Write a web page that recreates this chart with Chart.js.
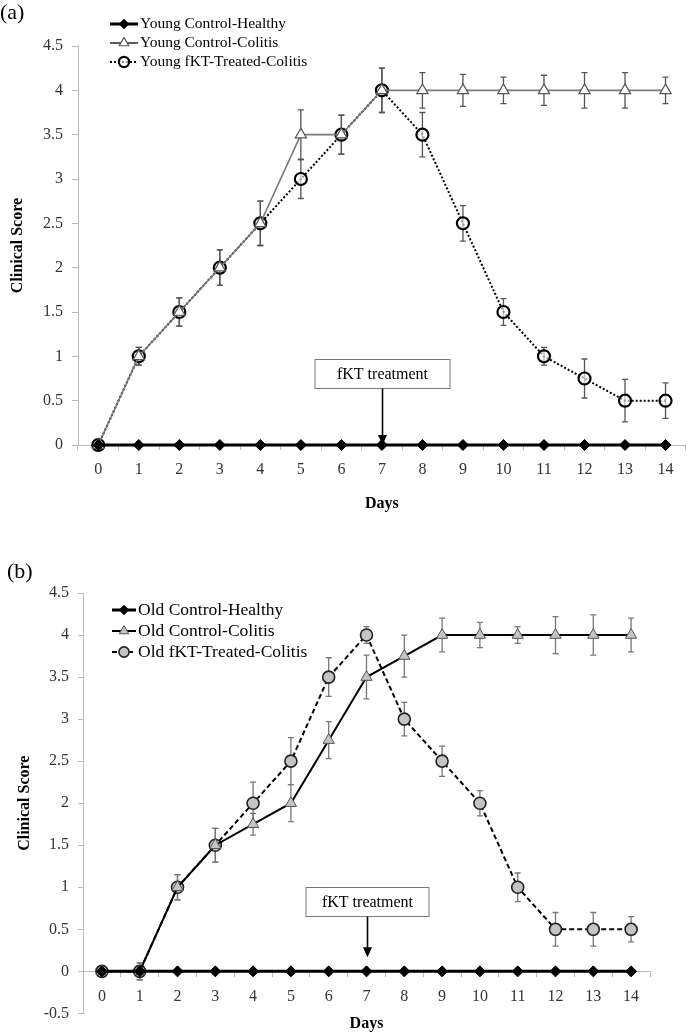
<!DOCTYPE html>
<html>
<head>
<meta charset="utf-8">
<script src="https://cdn.jsdelivr.net/npm/chart.js@4.4.1/dist/chart.umd.min.js"></script>
<style>
  body { margin: 0; background: #fff; width: 694px; height: 1032px; position: relative; overflow: hidden; }
  canvas { position: absolute; left: 0; }
  #chartA { top: 0; }
  #chartB { top: 530px; }
</style>
</head>
<body>
<canvas id="chartA" width="694" height="530"></canvas>
<canvas id="chartB" width="694" height="502"></canvas>
<script>
// days on the x axis
const days = ['0', '1', '2', '3', '4', '5', '6', '7', '8', '9', '10', '11', '12', '13', '14'];
const treatmentDay = 7;

// panel (a) - young mice
const youngHealthy = [0, 0, 0, 0, 0, 0, 0, 0, 0, 0, 0, 0, 0, 0, 0];
const youngColitis = [0, 1, 1.5, 2, 2.5, 3.5, 3.5, 4, 4, 4, 4, 4, 4, 4, 4];
const youngColitisErr = [0, 0.1, 0.16, 0.2, 0.25, 0.28, 0.22, 0.25, 0.2, 0.18, 0.15, 0.17, 0.2, 0.2, 0.15];
const youngTreated = [0, 1, 1.5, 2, 2.5, 3, 3.5, 4, 3.5, 2.5, 1.5, 1, 0.75, 0.5, 0.5];
const youngTreatedErr = [0, 0.1, 0.16, 0.2, 0.25, 0.22, 0.22, 0.25, 0.25, 0.2, 0.15, 0.1, 0.22, 0.24, 0.2];

// panel (b) - old mice
const oldHealthy = [0, 0, 0, 0, 0, 0, 0, 0, 0, 0, 0, 0, 0, 0, 0];
const oldColitis = [0, 0, 1, 1.5, 1.75, 2, 2.75, 3.5, 3.75, 4, 4, 4, 4, 4, 4];
const oldColitisErr = [0, 0.1, 0.15, 0.2, 0.13, 0.22, 0.22, 0.26, 0.25, 0.2, 0.15, 0.1, 0.22, 0.24, 0.2];
const oldTreated = [0, 0, 1, 1.5, 2, 2.5, 3.5, 4, 3, 2.5, 2, 1, 0.5, 0.5, 0.5];
const oldTreatedErr = [0, 0.1, 0.15, 0.2, 0.25, 0.28, 0.23, 0.1, 0.2, 0.18, 0.15, 0.17, 0.2, 0.2, 0.15];

const serif = "'Liberation Serif', 'Times New Roman', serif";
Chart.defaults.font.family = serif;

// vertical error bars, drawn under the markers
const errorBars = {
  id: 'errorBars',
  beforeDatasetsDraw(chart, args, opts) {
    const { ctx, scales: { x, y } } = chart;
    ctx.save();
    ctx.strokeStyle = opts.color;
    ctx.lineWidth = opts.width;
    chart.data.datasets.forEach(ds => {
      if (!ds.errors) return;
      ds.data.forEach((v, i) => {
        const e = ds.errors[i];
        if (!e) return;
        const px = x.getPixelForValue(i);
        const top = y.getPixelForValue(v + e);
        const bot = y.getPixelForValue(v - e);
        ctx.beginPath();
        ctx.moveTo(px, top); ctx.lineTo(px, bot);
        ctx.moveTo(px - opts.cap, top); ctx.lineTo(px + opts.cap, top);
        ctx.moveTo(px - opts.cap, bot); ctx.lineTo(px + opts.cap, bot);
        ctx.stroke();
      });
    });
    ctx.restore();
  }
};

// legend with a line sample and the marker on it
const lineLegend = {
  id: 'lineLegend',
  afterDraw(chart, args, opts) {
    const ctx = chart.ctx;
    ctx.save();
    ctx.font = opts.font;
    ctx.textBaseline = 'middle';
    chart.data.datasets.forEach((ds, i) => {
      const y = opts.top + i * opts.rowHeight;
      const x0 = opts.left, x1 = opts.left + opts.sample;
      ctx.strokeStyle = ds.legendColor || ds.borderColor;
      ctx.lineWidth = ds.borderWidth;
      ctx.setLineDash(ds.borderDash || []);
      ctx.beginPath(); ctx.moveTo(x0, y); ctx.lineTo(x1, y); ctx.stroke();
      ctx.setLineDash([]);
      ctx.fillStyle = ds.pointBackgroundColor;
      ctx.strokeStyle = ds.pointBorderColor;
      ctx.lineWidth = ds.pointBorderWidth;
      Chart.helpers.drawPoint(ctx, { pointStyle: ds.pointStyle, radius: ds.pointRadius * 0.85, borderWidth: ds.pointBorderWidth, rotation: 0 }, (x0 + x1) / 2, y);
      ctx.fillStyle = '#000';
      ctx.fillText(ds.label, x1 + 2, y);
    });
    ctx.restore();
  }
};

// "(a)" / "(b)"
const panelLabel = {
  id: 'panelLabel',
  afterDraw(chart, args, opts) {
    const ctx = chart.ctx;
    ctx.save();
    ctx.font = opts.font;
    ctx.fillStyle = '#000';
    ctx.textBaseline = 'middle';
    ctx.fillText(opts.text, opts.x, opts.y);
    ctx.restore();
  }
};

// boxed note with an arrow pointing at the treatment day
const treatmentNote = {
  id: 'treatmentNote',
  afterDatasetsDraw(chart, args, opts) {
    const { ctx, scales: { x, y } } = chart;
    const cx = Math.round(x.getPixelForValue(opts.day)) + 0.5;
    const y0 = y.getPixelForValue(0);
    const boxBottom = Math.round(y0 - opts.gap) + 0.5;
    const boxTop = boxBottom - opts.height;
    const tip = y0 - opts.tipGap;
    ctx.save();
    ctx.fillStyle = '#fff';
    ctx.fillRect(cx - opts.width / 2, boxTop, opts.width, opts.height);
    ctx.strokeStyle = '#777';
    ctx.lineWidth = 1;
    ctx.strokeRect(cx - opts.width / 2, boxTop, opts.width, opts.height);
    ctx.fillStyle = '#000';
    ctx.font = opts.font;
    ctx.textAlign = 'center';
    ctx.textBaseline = 'middle';
    ctx.fillText(opts.text, cx, boxTop + opts.height / 2 + 1);
    ctx.strokeStyle = '#000';
    ctx.lineWidth = 1.6;
    ctx.beginPath(); ctx.moveTo(cx, boxBottom); ctx.lineTo(cx, tip - 8); ctx.stroke();
    ctx.beginPath();
    ctx.moveTo(cx - 4.5, tip - 10); ctx.lineTo(cx + 4.5, tip - 10); ctx.lineTo(cx, tip);
    ctx.closePath(); ctx.fill();
    ctx.restore();
  }
};

const tickFont = { family: serif, size: 16 };
const titleFont = { family: serif, size: 16, weight: 'bold' };
const plainNumber = v => String(v);

// panel (a)
new Chart(document.getElementById('chartA').getContext('2d'), {
  type: 'line',
  data: {
    labels: days,
    datasets: [{
      label: 'Young Control-Healthy',
      data: youngHealthy,
      borderColor: '#000', borderWidth: 3,
      pointStyle: 'rectRot', pointRadius: 5.5, pointBackgroundColor: '#000', pointBorderColor: '#000', pointBorderWidth: 1
    }, {
      label: 'Young Control-Colitis',
      data: youngColitis, errors: youngColitisErr,
      borderColor: '#7a7a7a', legendColor: '#333', borderWidth: 1.6,
      pointStyle: 'triangle', pointRadius: 6.5, pointBackgroundColor: '#fff', pointBorderColor: '#555', pointBorderWidth: 1.2
    }, {
      label: 'Young fKT-Treated-Colitis',
      data: youngTreated, errors: youngTreatedErr,
      borderColor: '#000', borderWidth: 2, borderDash: [2, 2],
      pointStyle: 'circle', pointRadius: 6, pointBackgroundColor: 'rgba(255,255,255,0.6)', pointBorderColor: '#000', pointBorderWidth: 2.2
    }]
  },
  options: {
    responsive: false,
    animation: false,
    events: [],
    datasets: { line: { tension: 0, clip: false } },
    layout: { padding: { top: 46, right: 1.5, bottom: 0, left: 0 } },
    scales: {
      x: {
        type: 'category', offset: true,
        grid: { offset: true, drawOnChartArea: false, tickLength: 5, color: '#bbb' },
        border: { color: '#bbb' },
        ticks: { font: tickFont, color: '#333', padding: 10, maxRotation: 0, autoSkip: false },
        title: { display: true, text: 'Days', font: titleFont, color: '#000', padding: { top: 0, bottom: 17 } },
        afterFit(s) { s.height = 85; }
      },
      y: {
        min: 0, max: 4.5,
        ticks: { stepSize: 0.5, font: tickFont, color: '#333', padding: 9, callback: plainNumber },
        grid: { drawOnChartArea: false, tickLength: 6, color: '#bbb' },
        border: { color: '#bbb' },
        title: { display: true, text: 'Clinical Score', font: titleFont, color: '#000', padding: { top: 8, bottom: 0 } },
        afterFit(s) { s.width = 78; }
      }
    },
    plugins: {
      legend: { display: false },
      tooltip: { enabled: false },
      errorBars: { color: '#555', width: 1.3, cap: 3 },
      lineLegend: { left: 110, top: 24, rowHeight: 19, sample: 28, font: '15.5px ' + serif },
      panelLabel: { text: '(a)', x: 0, y: 13, font: '22px ' + serif },
      treatmentNote: { day: treatmentDay, text: 'fKT treatment', width: 135, height: 29, gap: 57, tipGap: 0, font: '16px ' + serif }
    }
  },
  plugins: [errorBars, lineLegend, panelLabel, treatmentNote]
});

// panel (b)
new Chart(document.getElementById('chartB').getContext('2d'), {
  type: 'line',
  data: {
    labels: days,
    datasets: [{
      label: 'Old Control-Healthy',
      data: oldHealthy,
      borderColor: '#000', borderWidth: 3,
      pointStyle: 'rectRot', pointRadius: 5.5, pointBackgroundColor: '#000', pointBorderColor: '#000', pointBorderWidth: 1
    }, {
      label: 'Old Control-Colitis',
      data: oldColitis, errors: oldColitisErr,
      borderColor: '#000', borderWidth: 2,
      pointStyle: 'triangle', pointRadius: 6.5, pointBackgroundColor: '#c4c4c4', pointBorderColor: '#555', pointBorderWidth: 1
    }, {
      label: 'Old fKT-Treated-Colitis',
      data: oldTreated, errors: oldTreatedErr,
      borderColor: '#000', borderWidth: 2, borderDash: [5, 3],
      pointStyle: 'circle', pointRadius: 6, pointBackgroundColor: '#c4c4c4', pointBorderColor: '#222', pointBorderWidth: 1.6
    }]
  },
  options: {
    responsive: false,
    animation: false,
    events: [],
    datasets: { line: { tension: 0, clip: false } },
    layout: { padding: { top: 63, right: 44, bottom: 0, left: 0 } },
    scales: {
      x: {
        type: 'category', offset: true, position: { y: 0 },
        grid: { offset: true, drawOnChartArea: false, tickLength: 5, color: '#bbb' },
        border: { color: '#bbb' },
        ticks: { font: tickFont, color: '#333', padding: 11, maxRotation: 0, autoSkip: false },
        title: { display: true, text: 'Days', font: titleFont, color: '#000', padding: { top: 0, bottom: -41.6 } },
        afterFit(s) { s.height = 20; }
      },
      y: {
        min: -0.5, max: 4.5,
        ticks: { stepSize: 0.5, font: tickFont, color: '#333', padding: 9, callback: plainNumber },
        grid: { drawOnChartArea: false, tickLength: 5, color: '#bbb' },
        border: { color: '#bbb' },
        title: { display: true, text: 'Clinical Score', font: titleFont, color: '#000', padding: { top: 15, bottom: 0 } },
        afterFit(s) { s.width = 83; }
      }
    },
    plugins: {
      legend: { display: false },
      tooltip: { enabled: false },
      errorBars: { color: '#777', width: 1.3, cap: 3 },
      lineLegend: { left: 112, top: 80, rowHeight: 21, sample: 24, font: '17.5px ' + serif },
      panelLabel: { text: '(b)', x: 7, y: 42, font: '22px ' + serif },
      treatmentNote: { day: treatmentDay, text: 'fKT treatment', width: 123, height: 29, gap: 55, tipGap: 14, font: '16px ' + serif }
    }
  },
  plugins: [errorBars, lineLegend, panelLabel, treatmentNote]
});
</script>
</body>
</html>
